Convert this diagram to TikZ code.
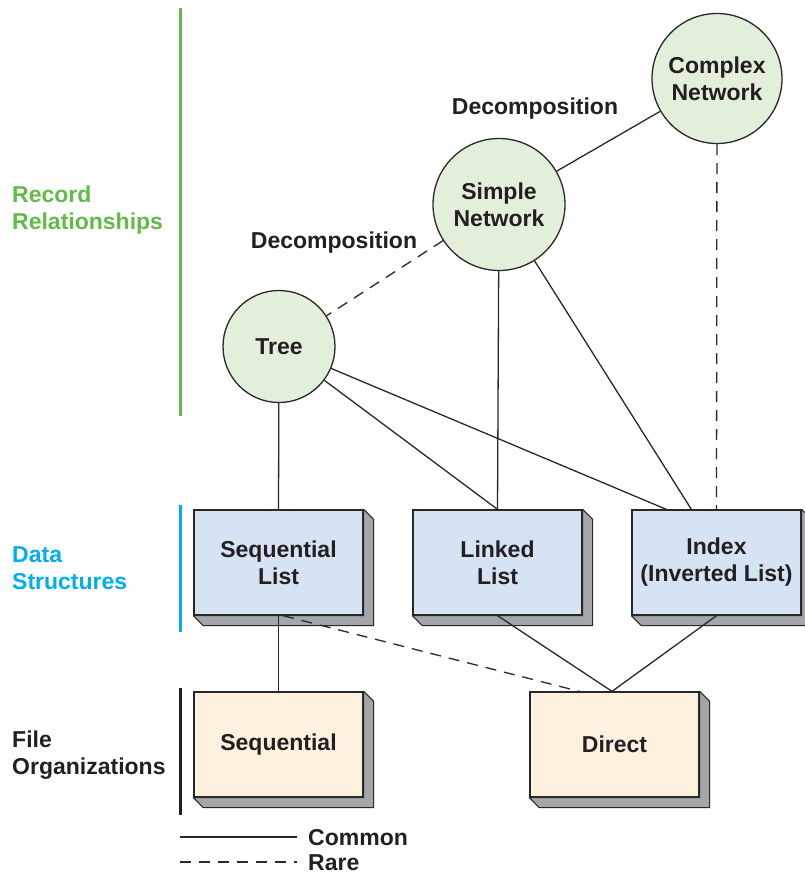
\documentclass[tikz,border=0pt]{standalone}
\usepackage{fontspec}
\setmainfont{Liberation Sans}
\usetikzlibrary{calc}
\definecolor{rgreen}{RGB}{98,187,70}
\definecolor{rcyan}{RGB}{0,174,239}
\definecolor{cfill}{RGB}{226,239,218}
\definecolor{bfill}{RGB}{213,227,242}
\definecolor{tfill}{RGB}{253,240,223}
\definecolor{sgray}{RGB}{165,166,170}
\definecolor{lcol}{RGB}{40,40,40}
\definecolor{tcol}{RGB}{35,31,32}
\tikzset{
  txt/.style={font=\bfseries\fontsize{23}{27}\selectfont, text=tcol, align=center, inner sep=0pt},
  circ/.style={txt, circle, draw=lcol, line width=1.3pt, fill=cfill},
  box/.style={txt, rectangle, draw=lcol, line width=1.3pt, minimum width=169pt, minimum height=105pt},
  conn/.style={lcol, line width=1.3pt},
  rare/.style={conn, dash pattern=on 11pt off 8pt},
  side/.style={fill=sgray, draw=lcol, line width=1.1pt, line join=round},
  lefttxt/.style={txt, align=left, anchor=west},
  bar/.style={line width=3pt}
}
\begin{document}
\begin{tikzpicture}[x=1pt,y=-1pt]
\useasboundingbox (0,0) rectangle (804,874);
% category labels and bars
\node[lefttxt, text=rgreen] (rr) at (12,210.5) {Record\\Relationships};
\node[lefttxt, text=rcyan] (dsl) at (12,568.5) {Data\\Structures};
\node[lefttxt] (fo) at (12,755.5) {File\\Organizations};
\coordinate (g1) at (180,8); \coordinate (g2) at (180,416);
\coordinate (c1) at (180,505); \coordinate (c2) at (180,632);
\coordinate (k1) at (180,688); \coordinate (k2) at (180,815);
\draw[bar, rgreen] (g1) -- (g2);
\draw[bar, rcyan] (c1) -- (c2);
\draw[bar, tcol] (k1) -- (k2);
% circles
\node[circ, minimum size=130pt] (cn) at (717,78.5) {Complex\\Network};
\node[circ, minimum size=132pt] (sn) at (499,204.5) {Simple\\Network};
\node[circ, minimum size=112pt] (tree) at (279,346.5) {Tree};
\node[txt] (d1) at (535,108.5) {Decomposition};
\node[txt] (d2) at (334,242.5) {Decomposition};
% boxes
\node[box, fill=bfill] (sl) at (278.5,562.5) {Sequential\\List};
\node[box, fill=bfill] (ll) at (497.5,562.5) {Linked\\List};
\node[box, fill=bfill] (ix) at (716.5,562.5) {Index\\(Inverted List)};
\node[box, fill=tfill] (sq) at (278.5,744.5) {Sequential};
\node[box, fill=tfill] (dr) at (614.5,744.5) {Direct};
\foreach \b in {sl,ll,ix,sq,dr}{
  \draw[side] (\b.north east) -- ++(10,10) -- ($(\b.south east)+(10,10)$) -- ($(\b.south west)+(10,10)$) -- (\b.south west) -- (\b.south east) -- cycle;
}
% connection points
\coordinate (ixa) at ($(ix.north west)+(35,0)$);
\coordinate (ixb) at ($(ix.north west)+(60,0)$);
\coordinate (sls) at ($(sl.south)+(4.5,0)$);
\coordinate (dra) at ($(dr.north west)+(50,0)$);
\coordinate (drb) at ($(dr.north)+(-2.5,0)$);
% connectors
\draw[conn] (cn) -- (sn);
\draw[rare] (cn) -- (ix.north);
\draw[rare] (sn) -- (tree);
\draw[conn] (sn) -- (ll.north);
\draw[conn] (sn) -- (ixb);
\draw[conn] (tree) -- (sl.north);
\draw[conn] (tree) -- (ll.north);
\draw[conn] (tree) -- (ixa);
\draw[conn] (sl.south) -- (sq.north);
\draw[rare] (sls) -- (dra);
\draw[conn] (ll.south) -- (drb);
\draw[conn] (ix.south) -- (drb);
% legend
\coordinate (la1) at (180,837); \coordinate (la2) at (297,837);
\coordinate (lb1) at (180,862); \coordinate (lb2) at (297,862);
\draw[conn] (la1) -- (la2);
\draw[rare] (lb1) -- (lb2);
\node[txt, anchor=west] (lc) at (308,837.5) {Common};
\node[txt, anchor=west] (lr) at (308,863) {Rare};
\end{tikzpicture}
\end{document}
